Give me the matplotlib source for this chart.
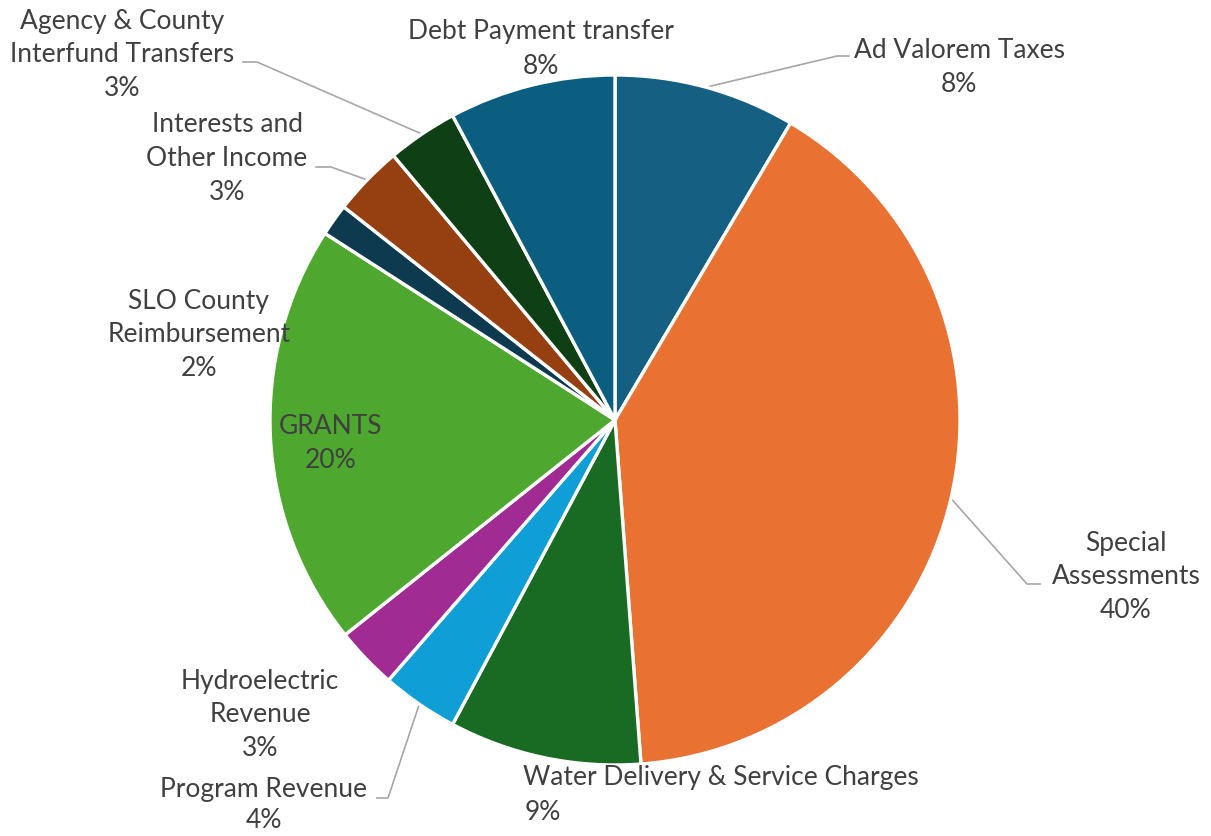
import matplotlib
matplotlib.use("Agg")
import matplotlib.pyplot as plt
import numpy as np

categories = ["Ad Valorem Taxes", "Special Assessments", "Water Delivery & Service Charges",
              "Program Revenue", "Hydroelectric Revenue", "GRANTS", "SLO County Reimbursement",
              "Interests and Other Income", "Agency & County Interfund Transfers",
              "Debt Payment transfer"]
values = [8.5, 40.3, 9.0, 3.6, 2.9, 19.8, 1.5, 3.3, 3.3, 7.8]
colors = ["#156082", "#E97132", "#196B24", "#0F9ED5", "#A02B93", "#4EA72E",
          "#0E3A50", "#963F11", "#0F3F15", "#0B5E80"]

W, H = 1211, 836
fig = plt.figure(figsize=(W / 100, H / 100), dpi=100)
ax = fig.add_axes([0, 0, 1, 1])

cx, cy, R = 615, H - 420, 345
wedges, _ = ax.pie(values, colors=colors, startangle=90, counterclock=False,
                   center=(cx, cy), radius=R, frame=True,
                   wedgeprops=dict(edgecolor="white", linewidth=2.4))
ax.set_xlim(0, W)
ax.set_ylim(0, H)
ax.set_aspect("equal")
ax.axis("off")

total = sum(values)
pcts = [f"{round(v / total * 100):d}%" for v in values]

FONT = "Lato"
FS = 19
TC = "#404040"

# label layout: (lines, x, y of first line in px from top, align)
label_layout = {
    0: (["Ad Valorem Taxes"], 959, 50, "center"),
    1: (["Special", "Assessments"], 1126, 543, "center"),
    2: (["Water Delivery & Service Charges"], 523, 778, "left"),
    3: (["Program Revenue"], 264, 789, "center"),
    4: (["Hydroelectric", "Revenue"], 260, 681, "center"),
    5: (["GRANTS"], 331, 427, "center"),
    6: (["SLO County", "Reimbursement"], 199, 301, "center"),
    7: (["Interests and", "Other Income"], 227, 125, "center"),
    8: (["Agency & County", "Interfund Transfers"], 122, 21, "center"),
    9: (["Debt Payment transfer"], 541, 32, "center"),
}
LS = 34
for i, (lines, x, y0, align) in label_layout.items():
    all_lines = lines + [pcts[i]]
    for k, t in enumerate(all_lines):
        xx = x
        if align == "left" and k == len(all_lines) - 1:
            xx = x + 2
        yy = y0 + k * LS
        if i == 3 and k == len(all_lines) - 1:
            yy -= 3
        ax.text(xx, H - yy, t, ha=align, va="center",
                fontsize=FS, color=TC, family=[FONT, "DejaVu Sans"])

def edge_point(i):
    start = 90 - 360 * sum(values[:i]) / total
    mid = start - 180 * values[i] / total
    a = np.deg2rad(mid)
    return cx + R * np.cos(a), cy + R * np.sin(a)

leaders = {
    0: [(837, 56), (849, 56)],
    1: [(1027, 584), (1040, 584)],
    3: [(388, 798), (377, 798)],
    7: [(331, 167), (316, 167)],
    8: [(257, 62), (243, 62)],
}
for i, pts in leaders.items():
    ex, ey = edge_point(i)
    xs = [ex] + [p[0] for p in pts]
    ys = [ey] + [H - p[1] for p in pts]
    ax.plot(xs, ys, color="#A6A6A6", lw=1.2, zorder=0.5)

fig.savefig("out.png", dpi=100, facecolor="white")
